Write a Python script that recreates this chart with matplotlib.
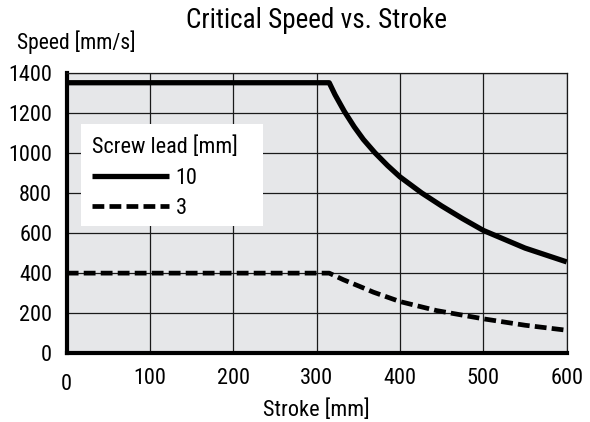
import matplotlib
matplotlib.use('Agg')
import matplotlib.pyplot as plt
import matplotlib.transforms as mtransforms
from matplotlib.patches import Rectangle

plt.rcParams['font.family'] = ['Roboto Condensed', 'DejaVu Sans']

# Daten
stroke_10 = [0, 315, 322, 333, 345, 356, 370, 385, 400, 426, 450, 475, 500, 550, 600]
speed_10 = [1350, 1350, 1290, 1208, 1130, 1067, 1000, 937, 880, 800, 735, 672, 613, 525, 456]
stroke_3 = [0, 315, 332, 352, 368, 400, 444, 500, 550, 600]
speed_3 = [400, 400, 367, 333, 305, 258, 213, 172, 140, 115]

leads = ['10', '3']
x_ticks = [0, 100, 200, 300, 400, 500, 600]
y_ticks = [0, 200, 400, 600, 800, 1000, 1200, 1400]

fig = plt.figure(figsize=(5.9, 4.22), dpi=100)
ax = fig.add_axes([0.1131, 0.1628, 0.8474, 0.6649])
ax.set_facecolor('#e6e7e9')

ax.plot(stroke_10, speed_10, color='black', lw=3.8, label=leads[0],
        solid_capstyle='butt', zorder=3)
ax.plot(stroke_3, speed_3, color='black', lw=3.4, dashes=(2.5, 1.1),
        label=leads[1], zorder=3)

ax.set_xlim(0, 600)
ax.set_ylim(0, 1400)
ax.set_xticks(x_ticks)
ax.set_yticks(y_ticks)
ax.tick_params(length=0, pad=10.5, labelsize=16)
ax.grid(True, color='#1a1a1a', lw=0.9)
ax.set_axisbelow(True)

for s in ['left', 'bottom']:
    ax.spines[s].set_linewidth(3)
for s in ['top', 'right']:
    ax.spines[s].set_linewidth(0.9)
    ax.spines[s].set_color('#1a1a1a')

# "0" auf der x-Achse etwas tiefer
lab0 = ax.xaxis.get_major_ticks()[0].label1
lab0.set_transform(lab0.get_transform() +
                   mtransforms.ScaledTranslation(0, -4.5 / 72, fig.dpi_scale_trans))

ax.set_title('Critical Speed vs. Stroke', fontsize=19.5, pad=32)
ax.set_xlabel('Stroke [mm]', fontsize=16, labelpad=3)
fig.text(17 / 590, 1 - 49 / 422, 'Speed [mm/s]', fontsize=15.5,
         ha='left', va='baseline')

# Legende
ax.add_patch(Rectangle((0.028, 0.4535), 0.365, 0.3635, transform=ax.transAxes,
                       facecolor='white', edgecolor='none', zorder=2))
leg = ax.legend(title='Screw lead [mm]', loc='upper left',
                bbox_to_anchor=(0.028, 0.812), borderaxespad=0,
                frameon=False, fontsize=16, title_fontsize=16,
                alignment='left', handlelength=3.47, handletextpad=0.3,
                labelspacing=0.42, borderpad=0.5)
leg.set_zorder(4)

fig.savefig('out.png', dpi=100)
